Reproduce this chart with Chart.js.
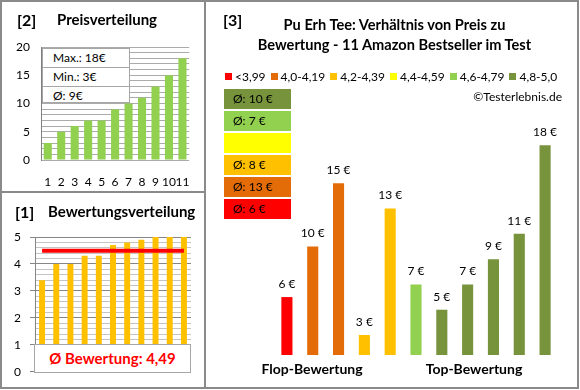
<!DOCTYPE html>
<html>
<head>
<meta charset="utf-8">
<script src="https://cdn.jsdelivr.net/npm/chart.js@4/dist/chart.umd.min.js"></script>
<style>
body { margin: 0; background: #fff; font-family: Lato, "DejaVu Sans", sans-serif; color: #000; }
#wrap { position: relative; width: 580px; height: 390px; overflow: hidden; }
.abs { position: absolute; }
.line { position: absolute; background: #8a8a8a; }
.head { position: absolute; font-weight: bold; white-space: nowrap; }
#statBox { left: 42px; top: 48px; width: 88px; height: 55px; border: 1px solid #a6a6a6; background: #fff; box-sizing: border-box; }
#statBox div { height: 18px; line-height: 18px; padding-left: 10px; font-size: 12px; border-bottom: 1px solid #a6a6a6; }
#statBox div:last-child { border-bottom: none; }
#avgBox { left: 34px; top: 344px; width: 157px; height: 29px; border: 1px solid #a6a6a6; background: #fff; box-sizing: border-box;
  color: #ff0000; font-weight: bold; font-size: 15px; text-align: center; line-height: 27px; }
#legend { left: 225px; top: 69px; display: flex; align-items: center; font-size: 12px; white-space: nowrap; }
#legend span.sq { display: inline-block; width: 7px; height: 7px; margin-right: 3px; }
#legend span.item { display: inline-flex; align-items: center; margin-right: 5px; }
.grp { position: absolute; left: 224px; width: 67px; height: 20px; line-height: 20px; font-size: 12px; padding-left: 9px; box-sizing: border-box; }
</style>
</head>
<body>
<div id="wrap">
  <canvas id="priceChart" class="abs" style="left:0;top:0" width="205" height="192"></canvas>
  <canvas id="ratingChart" class="abs" style="left:0;top:192px" width="205" height="196"></canvas>
  <canvas id="ratioChart" class="abs" style="left:205px;top:0" width="373" height="388"></canvas>

  <!-- frames -->
  <div class="line" style="left:0;top:0;width:579px;height:2px"></div>
  <div class="line" style="left:0;top:387px;width:579px;height:2px"></div>
  <div class="line" style="left:0;top:0;width:2px;height:389px"></div>
  <div class="line" style="left:577px;top:0;width:2px;height:389px"></div>
  <div class="line" style="left:204px;top:0;width:2px;height:389px"></div>
  <div class="line" style="left:0;top:191px;width:205px;height:2px"></div>

  <div class="head" style="left:17px;top:10px;font-size:16px">[2]</div>
  <div class="head" style="left:57px;top:10px;font-size:15px">Preisverteilung</div>
  <div class="head" style="left:15px;top:202px;font-size:16px">[1]</div>
  <div class="head" style="left:48px;top:202px;font-size:15px">Bewertungsverteilung</div>
  <div class="head" style="left:223px;top:10px;font-size:16px">[3]</div>
  <div class="head" style="left:208px;top:15px;width:373px;text-align:center;font-size:14.6px;line-height:20px" id="title3"></div>

  <div id="statBox" class="abs"></div>
  <div id="avgBox" class="abs"></div>
  <div id="legend" class="abs"></div>
  <div id="groups"></div>
  <div class="abs" style="left:420px;top:89px;width:142px;text-align:right;font-size:12px">©Testerlebnis.de</div>
  <div class="head" style="left:232px;top:360px;width:160px;text-align:center;font-size:14px">Flop-Bewertung</div>
  <div class="head" style="left:394px;top:360px;width:160px;text-align:center;font-size:14px">Top-Bewertung</div>
</div>

<script>
// Panel [2]: prices sorted ascending
const productLabels = ['1', '2', '3', '4', '5', '6', '7', '8', '9', '10', '11'];
const prices = [3, 5, 6, 7, 7, 9, 10, 11, 13, 15, 18];
const priceStats = ['Max.: 18€', 'Min.: 3€', 'Ø: 9€'];

// Panel [1]: ratings sorted ascending
const ratings = [3.4, 4.0, 4.0, 4.3, 4.3, 4.7, 4.8, 4.9, 5.0, 5.0, 5.0];
const avgRatingLine = [4.49, 4.49, 4.49, 4.49, 4.49, 4.49, 4.49, 4.49, 4.49, 4.49, 4.49];
const avgRatingText = 'Ø Bewertung: 4,49';

// Panel [3]: price of each product in order of its rating
const titleLines = ['Pu Erh Tee: Verhältnis von Preis zu', 'Bewertung - 11 Amazon Bestseller im Test'];
const pricesByRating = [6, 10, 15, 3, 13, 7, 5, 7, 9, 11, 18];
const ratingClassOfBar = [0, 1, 1, 2, 2, 4, 5, 5, 5, 5, 5];
const classLabels = ['<3,99', '4,0-4,19', '4,2-4,39', '4,4-4,59', '4,6-4,79', '4,8-5,0'];
const classColors = ['#ff0000', '#e36c09', '#ffc000', '#ffff00', '#92d050', '#77933c'];
const classAverages = ['Ø: 6 €', 'Ø: 13 €', 'Ø: 8 €', '', 'Ø: 7 €', 'Ø: 10 €'];

const FONT = 'Lato, "DejaVu Sans", sans-serif';
Chart.defaults.font.family = FONT;
Chart.defaults.color = '#000';

// html bits
document.getElementById('statBox').innerHTML = priceStats.map(s => `<div>${s}</div>`).join('');
document.getElementById('avgBox').textContent = avgRatingText;
document.getElementById('title3').innerHTML = titleLines.join('<br>');

const legend = document.getElementById('legend');
classLabels.forEach((label, i) => {
    const item = document.createElement('span');
    item.className = 'item';
    item.innerHTML = `<span class="sq" style="background:${classColors[i]}"></span>${label}`;
    legend.appendChild(item);
});

const groups = document.getElementById('groups');
for (let i = classLabels.length - 1, row = 0; i >= 0; i--, row++) {
    const box = document.createElement('div');
    box.className = 'grp';
    box.style.top = (89 + row * 22) + 'px';
    box.style.background = classColors[i];
    box.textContent = classAverages[i];
    groups.appendChild(box);
}

const isWhole = v => Math.abs(v - Math.round(v)) < 1e-6;

// [2] Preisverteilung
new Chart(document.getElementById('priceChart'), {
    type: 'bar',
    data: {
        labels: productLabels,
        datasets: [{
            data: prices,
            backgroundColor: '#92d050',
            barPercentage: 0.6,
            categoryPercentage: 1
        }]
    },
    options: {
        responsive: false,
        animation: false,
        layout: { padding: { top: 47, right: 13, left: 0, bottom: 0 } },
        plugins: { legend: { display: false }, tooltip: { enabled: false } },
        scales: {
            x: {
                grid: { display: false, drawTicks: false },
                border: { display: false },
                ticks: { padding: 15, font: { size: 12 }, maxRotation: 0, autoSkip: false },
                afterFit: s => { s.height = 32; }
            },
            y: {
                min: 0,
                max: 20,
                ticks: {
                    stepSize: 1,
                    autoSkip: false,
                    padding: 11,
                    font: { size: 12 },
                    callback: v => (v % 5 === 0 ? v : '')
                },
                grid: { color: '#ababab', drawTicks: false },
                border: { color: '#808080' },
                afterFit: s => { s.width = 41; }
            }
        }
    }
});

// [1] Bewertungsverteilung
new Chart(document.getElementById('ratingChart'), {
    data: {
        labels: productLabels,
        datasets: [
            {
                type: 'line',
                data: avgRatingLine,
                borderColor: '#ff0000',
                borderWidth: 4,
                pointRadius: 0,
                order: 0
            },
            {
                type: 'bar',
                data: ratings,
                backgroundColor: '#ffc000',
                barPercentage: 0.42,
                categoryPercentage: 1,
                order: 1
            }
        ]
    },
    options: {
        responsive: false,
        animation: false,
        layout: { padding: { top: 45, right: 14, left: 0, bottom: 16 } },
        plugins: { legend: { display: false }, tooltip: { enabled: false } },
        scales: {
            x: { display: false },
            y: {
                min: 0,
                max: 5,
                ticks: {
                    stepSize: 0.2,
                    autoSkip: false,
                    padding: 9,
                    font: { size: 12 },
                    callback: v => (isWhole(v) ? Math.round(v) : '')
                },
                grid: {
                    tickLength: 5,
                    color: ctx => (isWhole(ctx.tick.value) ? '#868686' : '#c4c4c4'),
                    tickColor: ctx => (isWhole(ctx.tick.value) ? '#868686' : 'rgba(0,0,0,0)')
                },
                border: { color: '#868686' },
                afterFit: s => { s.width = 35; }
            }
        }
    }
});

// value labels above the bars
const barValueLabels = {
    id: 'barValueLabels',
    afterDatasetsDraw(chart) {
        const ctx = chart.ctx;
        const meta = chart.getDatasetMeta(0);
        ctx.save();
        ctx.font = '12px ' + FONT;
        ctx.fillStyle = '#000';
        ctx.textAlign = 'center';
        ctx.textBaseline = 'middle';
        meta.data.forEach((bar, i) => {
            ctx.fillText(pricesByRating[i] + ' €', bar.x, bar.y - 13);
        });
        ctx.restore();
    }
};

// [3] Verhältnis von Preis zu Bewertung (value axis starts a bit above zero, as in the original)
new Chart(document.getElementById('ratioChart'), {
    type: 'bar',
    data: {
        labels: productLabels,
        datasets: [{
            data: pricesByRating,
            backgroundColor: ratingClassOfBar.map(c => classColors[c]),
            barPercentage: 0.43,
            categoryPercentage: 1
        }]
    },
    options: {
        responsive: false,
        animation: false,
        layout: { padding: { top: 120, right: 20, left: 69, bottom: 33 } },
        plugins: { legend: { display: false }, tooltip: { enabled: false } },
        scales: {
            x: { display: false },
            y: { display: false, min: 1.42, max: 20 }
        }
    },
    plugins: [barValueLabels]
});
</script>
</body>
</html>
